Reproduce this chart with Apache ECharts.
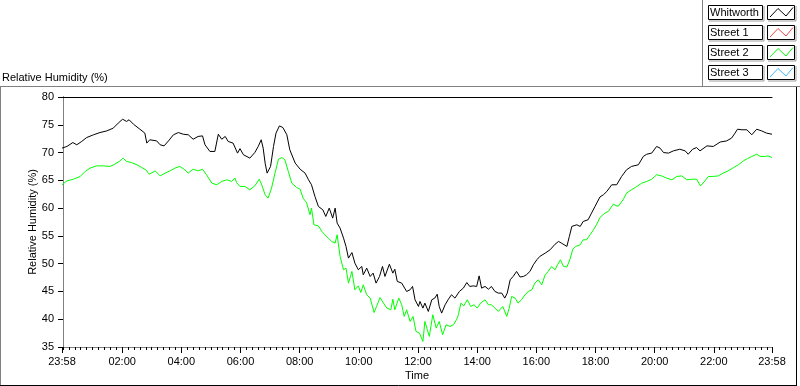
<!DOCTYPE html>
<html>
<head>
<meta charset="utf-8">
<script src="https://cdn.jsdelivr.net/npm/echarts@6/dist/echarts.min.js"></script>
<style>
  html, body { margin: 0; padding: 0; background: #fff; }
  #container { width: 800px; height: 386px; }
</style>
</head>
<body>
<div id="container"></div>
<script>
var seriesNames = ['Whitworth', 'Street 1', 'Street 2', 'Street 3'];
var seriesColors = ['#000000', '#f04848', '#00ff00', '#40b8ff'];

// minutes since midnight (23:58 of previous day = -2)
var whitworthTime = [-2, 8, 20, 28, 38, 48, 62, 75, 89, 102, 112, 121, 129, 134, 143, 156, 166, 170, 176, 190,
    197, 205, 214, 224, 234, 244, 254, 264, 274, 283, 288, 298, 308, 315, 322, 329, 335, 345, 354, 359,
    366, 379, 389, 396, 402, 406, 410, 414, 421, 427, 432, 439, 446, 454, 460, 471, 481, 491, 498, 504,
    511, 518, 527, 533, 540, 547, 552, 556, 562, 569, 574, 579, 586, 592, 599, 606, 609, 616, 623, 629,
    635, 642, 648, 653, 662, 669, 673, 678, 687, 697, 704, 709, 714, 721, 724, 730, 734, 741, 748, 754,
    759, 763, 768, 775, 781, 788, 795, 804, 812, 819, 825, 832, 839, 844, 849, 856, 863, 869, 876, 883,
    890, 896, 901, 907, 913, 920, 927, 934, 940, 947, 954, 961, 967, 978, 988, 998, 1005, 1011, 1022, 1027,
    1032, 1042, 1049, 1055, 1065, 1072, 1079, 1089, 1096, 1103, 1113, 1123, 1133, 1143, 1153, 1167, 1177, 1184, 1194, 1204,
    1211, 1218, 1228, 1238, 1251, 1262, 1268, 1277, 1285, 1292, 1306, 1319, 1333, 1346, 1356, 1363, 1368, 1377, 1387, 1397,
    1407, 1417, 1427, 1438];
var whitworthRH = [70.8, 71.1, 71.8, 71.4, 72.0, 72.7, 73.2, 73.6, 73.9, 74.4, 75.3, 76.0, 75.6, 75.9, 75.1, 74.2, 73.5, 71.7, 72.3, 72.1,
    71.4, 71.2, 72.1, 73.2, 73.6, 73.3, 73.2, 72.4, 72.9, 73.0, 71.4, 70.2, 70.2, 73.3, 72.4, 72.9, 72.0, 71.7, 69.9, 70.7,
    69.6, 69.0, 70.0, 71.1, 72.3, 70.8, 68.1, 66.3, 67.5, 71.1, 73.5, 74.8, 74.5, 73.2, 70.5, 68.1, 67.0, 66.3, 65.1, 64.2,
    62.1, 60.3, 59.7, 58.5, 60.0, 58.2, 60.0, 57.3, 56.4, 54.6, 53.1, 51.0, 52.0, 50.1, 48.9, 49.5, 48.0, 49.2, 47.7, 48.3,
    46.5, 47.7, 49.5, 47.7, 49.9, 48.3, 49.0, 46.8, 46.5, 45.0, 45.3, 45.9, 43.5, 42.3, 43.2, 42.0, 42.9, 41.4, 43.5, 43.8,
    44.5, 42.3, 41.1, 42.6, 43.5, 44.4, 43.8, 45.0, 45.6, 46.6, 45.9, 46.0, 45.9, 47.8, 45.6, 45.9, 45.4, 45.9, 45.0, 44.7,
    44.7, 43.8, 44.7, 47.1, 47.7, 48.6, 47.6, 47.7, 48.0, 48.6, 49.8, 50.7, 51.3, 51.9, 52.5, 53.5, 54.0, 53.7, 53.1, 54.9,
    56.7, 57.0, 56.7, 57.6, 57.9, 59.1, 60.3, 62.0, 62.4, 63.0, 64.2, 64.2, 65.7, 66.9, 67.5, 67.8, 69.3, 69.7, 69.9, 71.1,
    70.8, 70.0, 69.9, 70.3, 70.6, 70.3, 69.7, 70.6, 70.9, 70.3, 71.2, 71.1, 71.9, 72.1, 72.6, 73.5, 74.2, 74.1, 74.1, 73.2,
    74.2, 73.9, 73.5, 73.3];

var street2Time = [-2, 8, 21, 35, 45, 55, 68, 82, 95, 105, 116, 122, 129, 139, 150, 160, 168, 175, 187, 197,
    207, 217, 227, 237, 247, 254, 264, 274, 283, 291, 302, 312, 322, 332, 342, 349, 352, 359, 369, 379,
    389, 398, 403, 410, 416, 423, 430, 437, 444, 450, 457, 464, 474, 481, 487, 494, 501, 504, 509, 518,
    525, 531, 538, 545, 552, 556, 562, 569, 574, 579, 586, 592, 599, 604, 609, 616, 623, 631, 636, 643,
    650, 657, 665, 669, 673, 681, 687, 692, 697, 704, 710, 716, 723, 730, 734, 739, 743, 750, 757, 763,
    770, 777, 785, 792, 798, 802, 807, 813, 820, 827, 834, 840, 847, 856, 863, 869, 876, 883, 892, 900,
    905, 910, 917, 923, 930, 937, 944, 951, 957, 964, 971, 978, 984, 991, 998, 1003, 1009, 1015, 1022, 1028,
    1034, 1040, 1049, 1055, 1062, 1069, 1076, 1082, 1089, 1099, 1106, 1116, 1126, 1136, 1143, 1153, 1164, 1174, 1184, 1194,
    1204, 1214, 1224, 1235, 1245, 1255, 1265, 1275, 1285, 1293, 1302, 1309, 1319, 1329, 1339, 1349, 1360, 1370, 1380, 1388,
    1397, 1407, 1414, 1424, 1430, 1438];
var street2RH = [64.2, 64.9, 65.2, 65.7, 66.6, 67.2, 67.6, 67.6, 67.5, 67.9, 68.5, 69.0, 68.4, 68.2, 67.8, 67.3, 66.9, 66.1, 66.7, 65.8,
    66.3, 66.7, 67.2, 67.5, 66.9, 66.3, 67.0, 66.7, 67.0, 66.0, 64.5, 64.2, 64.8, 65.1, 64.8, 65.4, 64.6, 63.9, 63.9, 63.3,
    64.0, 65.2, 64.2, 62.4, 61.8, 63.6, 66.3, 68.8, 69.1, 68.7, 66.6, 64.5, 63.7, 63.4, 61.8, 61.0, 58.8, 60.0, 57.0, 56.8,
    55.8, 55.2, 54.6, 54.0, 53.7, 55.2, 51.3, 48.9, 49.2, 46.5, 48.6, 45.3, 46.0, 44.8, 46.2, 44.4, 43.8, 41.2, 42.3, 43.9,
    42.9, 42.0, 41.7, 43.6, 41.7, 43.8, 42.6, 40.5, 41.7, 39.6, 40.5, 37.8, 37.5, 36.0, 39.6, 38.1, 36.9, 40.8, 38.4, 39.6,
    37.2, 39.0, 38.7, 39.0, 39.9, 40.8, 42.9, 42.4, 43.5, 42.3, 42.6, 42.0, 42.9, 43.5, 42.6, 42.6, 42.0, 41.4, 42.3, 40.5,
    42.0, 44.1, 43.8, 42.9, 43.5, 44.4, 45.0, 45.3, 46.5, 47.1, 46.2, 48.0, 48.6, 49.5, 48.9, 49.8, 50.7, 49.5, 49.4, 50.7,
    52.6, 53.1, 53.4, 54.3, 54.3, 55.2, 56.1, 57.0, 58.3, 59.1, 59.4, 60.7, 60.3, 61.5, 62.7, 63.3, 63.9, 64.5, 64.8, 65.2,
    66.0, 65.8, 65.4, 65.1, 65.7, 65.8, 65.1, 65.2, 65.2, 64.0, 64.9, 65.7, 65.7, 65.8, 66.3, 66.7, 67.3, 67.8, 68.5, 68.9,
    69.3, 69.7, 69.3, 69.3, 69.4, 69.1];

var xMin = -2, xMax = 1438;
var labelTimes = [-2, 120, 240, 360, 480, 600, 720, 840, 960, 1080, 1200, 1320, 1438];
var minorTimes = [];
for (var t = 0; t <= 1428; t += 12) minorTimes.push(t);
minorTimes.unshift(-2);
minorTimes.push(1438);

var FONT = 'Liberation Sans';

function fmtTime(m) {
    var t = (Math.round(m) + 1440) % 1440;
    var h = Math.floor(t / 60), mm = t % 60;
    return (h < 10 ? '0' : '') + h + ':' + (mm < 10 ? '0' : '') + mm;
}

function zip(xs, ys) {
    var out = [];
    for (var i = 0; i < xs.length; i++) out.push([xs[i], ys[i]]);
    return out;
}

function legendGraphics() {
    var g = [];
    for (var i = 0; i < seriesNames.length; i++) {
        var top = 5 + 20 * i;
        g.push({ type: 'rect', shape: { x: 708.5, y: top + 0.5, width: 54, height: 14 },
            style: { fill: '#fff', stroke: '#000', lineWidth: 1 } });
        g.push({ type: 'polyline', shape: { points: [[709, top + 16], [764, top + 16], [764, top + 1]] },
            style: { stroke: '#a0a0a0', lineWidth: 1, fill: null } });
        g.push({ type: 'text', x: 710, y: top + 8, style: { text: seriesNames[i], font: '11px ' + FONT,
            fill: '#000', verticalAlign: 'middle' } });
        g.push({ type: 'rect', shape: { x: 767.5, y: top + 0.5, width: 27, height: 14 },
            style: { fill: '#fff', stroke: '#000', lineWidth: 1 } });
        g.push({ type: 'polyline', shape: { points: [[768, top + 16], [796, top + 16], [796, top + 1]] },
            style: { stroke: '#a0a0a0', lineWidth: 1, fill: null } });
        g.push({ type: 'polyline', shape: { points: [[770, top + 12], [778, top + 3.5], [786, top + 11], [793, top + 2.5]] },
            style: { stroke: seriesColors[i], lineWidth: 1, fill: null } });
    }
    // frame
    g.push({ type: 'line', shape: { x1: 0, y1: 86.5, x2: 800, y2: 86.5 }, style: { stroke: '#808080', lineWidth: 1 } });
    g.push({ type: 'line', shape: { x1: 0.5, y1: 86, x2: 0.5, y2: 386 }, style: { stroke: '#808080', lineWidth: 1 } });
    g.push({ type: 'line', shape: { x1: 0, y1: 385.5, x2: 797, y2: 385.5 }, style: { stroke: '#000', lineWidth: 1 } });
    g.push({ type: 'line', shape: { x1: 796.5, y1: 87, x2: 796.5, y2: 386 }, style: { stroke: '#000', lineWidth: 1 } });
    g.push({ type: 'line', shape: { x1: 702.5, y1: 0, x2: 702.5, y2: 87 }, style: { stroke: '#808080', lineWidth: 1 } });
    g.push({ type: 'text', x: 2, y: 78, style: { text: 'Relative Humidity (%)', font: '11px ' + FONT,
        fill: '#000', verticalAlign: 'middle' } });
    return g;
}

var dom = document.getElementById('container');
var myChart = echarts.init(dom, null, { renderer: 'canvas' });

var series = [];
for (var i = 0; i < seriesNames.length; i++) {
    var d = [];
    if (i == 0) d = zip(whitworthTime, whitworthRH);
    if (i == 2) d = zip(street2Time, street2RH);
    series.push({
        name: seriesNames[i],
        type: 'line',
        data: d,
        showSymbol: false,
        color: seriesColors[i],
        lineStyle: { width: 1, color: seriesColors[i] },
        xAxisIndex: 0, yAxisIndex: 0
    });
}

var option = {
    animation: false,
    backgroundColor: '#fff',
    textStyle: { fontFamily: FONT },
    grid: { left: 62, top: 97, width: 710, height: 250, show: false },
    graphic: legendGraphics(),
    xAxis: [
        {
            type: 'value', min: xMin, max: xMax, position: 'bottom',
            name: 'Time', nameLocation: 'middle', nameGap: 23, nameMoveOverlap: false,
            nameTextStyle: { color: '#000', fontSize: 11, fontFamily: FONT },
            axisLine: { show: true, lineStyle: { color: '#808080', width: 1 } },
            axisTick: { show: true, customValues: minorTimes, length: 3, lineStyle: { color: '#000' } },
            axisLabel: { show: true, customValues: labelTimes, formatter: fmtTime, margin: 9,
                color: '#000', fontSize: 11, fontFamily: FONT },
            splitLine: { show: false }
        },
        {
            type: 'value', min: xMin, max: xMax, position: 'bottom', gridIndex: 0,
            axisLine: { show: false },
            axisTick: { show: true, customValues: labelTimes, length: 6, lineStyle: { color: '#000' } },
            axisLabel: { show: false },
            splitLine: { show: false }
        },
        {
            type: 'value', min: xMin, max: xMax, position: 'top', gridIndex: 0,
            axisLine: { show: true, lineStyle: { color: '#000', width: 1 } },
            axisTick: { show: false }, axisLabel: { show: false }, splitLine: { show: false }
        }
    ],
    yAxis: [
        {
            type: 'value', min: 35, max: 80, interval: 5, position: 'left',
            name: 'Relative Humidity (%)', nameLocation: 'middle', nameGap: 24, nameRotate: 90,
            nameMoveOverlap: false,
            nameTextStyle: { color: '#000', fontSize: 11, fontFamily: FONT },
            axisLine: { show: true, lineStyle: { color: '#000', width: 1 } },
            axisTick: { show: true, length: 5, lineStyle: { color: '#000' } },
            axisLabel: { margin: 8, color: '#000', fontSize: 11, fontFamily: FONT },
            splitLine: { show: false }
        },
        {
            type: 'value', min: 35, max: 80, position: 'right',
            axisLine: { show: true, lineStyle: { color: '#808080', width: 1 } },
            axisTick: { show: false }, axisLabel: { show: false }, splitLine: { show: false }
        }
    ],
    series: series
};

myChart.setOption(option);
window.addEventListener('resize', myChart.resize);
</script>
</body>
</html>
